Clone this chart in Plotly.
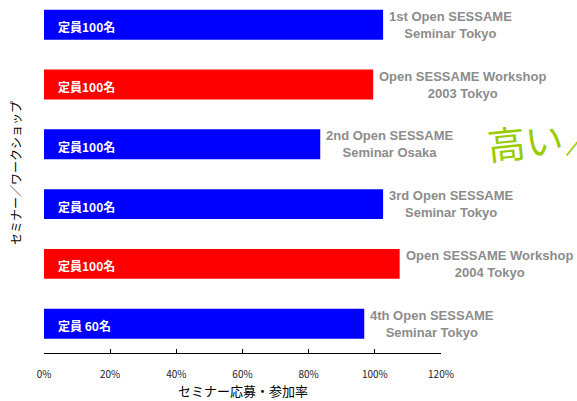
import plotly.graph_objects as go

events = [
    "1st Open SESSAME<br>Seminar Tokyo",
    "Open SESSAME Workshop<br>2003 Tokyo",
    "2nd Open SESSAME<br>Seminar Osaka",
    "3rd Open SESSAME<br>Seminar Tokyo",
    "Open SESSAME Workshop<br>2004 Tokyo",
    "4th Open SESSAME<br>Seminar Tokyo",
]
rates = [102.5, 99.5, 83.5, 102.5, 107.5, 96.8]
capacity_labels = ["定員100名", "定員100名", "定員100名", "定員100名", "定員100名", "定員 60名"]
bar_colors = ["#0000FF", "#FF0000", "#0000FF", "#0000FF", "#FF0000", "#0000FF"]
x_ticks = [0, 20, 40, 60, 80, 100, 120]
x_tick_labels = ["0%", "20%", "40%", "60%", "80%", "100%", "120%"]

positions = list(range(len(events)))

W, H = 577, 401
ML, MR, MT, MB = 44, 136, 0, 48
PW = W - ML - MR
PH = H - MT - MB

def px_x(p):
    return (p - ML) / PW

def px_y(p):
    return 1 - (p - MT) / PH

fig = go.Figure()
fig.add_trace(go.Bar(
    x=rates, y=positions, orientation="h",
    marker=dict(color=bar_colors, line=dict(width=0)),
    width=0.5, hoverinfo="skip",
))

jp = "Noto Sans CJK JP"
ann = []
for pos, r, cap in zip(positions, rates, capacity_labels):
    ann.append(dict(x=0, y=pos, xref="x", yref="y", text="<b>%s</b>" % cap,
                    showarrow=False, xanchor="left", yanchor="middle",
                    xshift=12, yshift=-2,
                    font=dict(family=jp, size=12, color="white")))
for pos, r, ev in zip(positions, rates, events):
    ann.append(dict(x=r, y=pos, xref="x", yref="y", text="<b>%s</b>" % ev,
                    showarrow=False, xanchor="left", yanchor="middle",
                    xshift=4, align="center",
                    font=dict(family="Liberation Sans, Arial", size=13, color="#8C8C8C")))
ann.append(dict(x=px_x(15), y=px_y(173), xref="paper", yref="paper",
                text="セミナー／ワークショップ", textangle=-90, showarrow=False,
                xanchor="center", yanchor="middle",
                font=dict(family=jp, size=12, color="black")))
ann.append(dict(x=0.5, y=px_y(391), xref="paper", yref="paper",
                text="セミナー応募・参加率", showarrow=False,
                xanchor="center", yanchor="middle",
                font=dict(family=jp, size=13, color="black")))
ann.append(dict(x=px_x(482), y=px_y(139), xref="paper", yref="paper",
                text="高い／", textangle=-6, showarrow=False,
                xanchor="left", yanchor="middle",
                font=dict(family=jp, size=38, color="#99CC00")))

fig.update_layout(
    width=W, height=H, autosize=False,
    margin=dict(l=ML, r=MR, t=MT, b=MB, pad=0),
    plot_bgcolor="white", paper_bgcolor="white",
    showlegend=False,
    bargap=0.5,
    annotations=ann,
    xaxis=dict(range=[0, 120], tickvals=x_ticks, ticktext=x_tick_labels,
               showgrid=False, zeroline=False,
               showline=True, linecolor="black", linewidth=1,
               ticks="inside", ticklen=4, tickcolor="black",
               ticklabelstandoff=12,
               tickfont=dict(family=jp, size=10, color="#222222")),
    yaxis=dict(range=[5.49, -0.413], showticklabels=False, showgrid=False,
               zeroline=False, showline=False, ticks=""),
)

fig.write_html("out.html", config={"displayModeBar": False},
               post_script="document.body.style.margin='0';document.body.style.overflow='hidden';")
